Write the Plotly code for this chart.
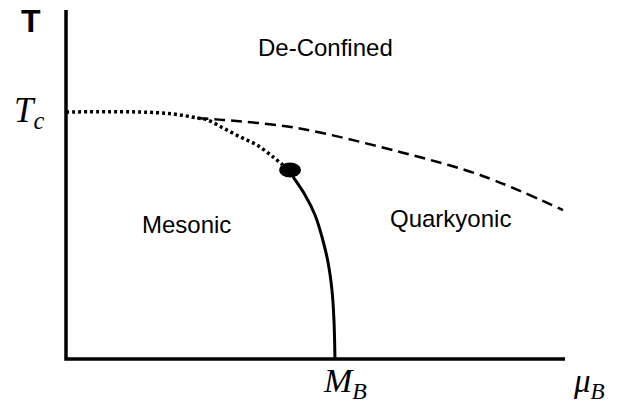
import plotly.graph_objects as go

# Phase-diagram data (mu_B in units of axis length, T in units of Tc)
axis_mu = [0.0, 0.0, 1.0]
axis_T = [1.413, 0.0, 0.0]

crossover_mu = [0.0, 0.148, 0.214, 0.263, 0.283, 0.315, 0.349, 0.383, 0.415, 0.435]
crossover_T = [1.0, 1.0, 0.992, 0.976, 0.968, 0.935, 0.899, 0.866, 0.818, 0.785]

deconf_mu = [0.263, 0.315, 0.463, 0.669, 0.830, 0.996]
deconf_T = [0.976, 0.968, 0.935, 0.838, 0.745, 0.603]

first_order_mu = [0.455, 0.479, 0.499, 0.513, 0.525, 0.533, 0.537, 0.539]
first_order_T = [0.737, 0.664, 0.583, 0.494, 0.393, 0.279, 0.158, 0.0]

critical_mu = 0.449
critical_T = 0.765

W, H = 618, 406
X_RANGE = [-0.13226, 1.10621]
Y_RANGE = [-0.19028, 1.45344]

fig = go.Figure()
fig.add_trace(go.Scatter(x=axis_mu, y=axis_T, mode="lines",
                         line=dict(color="black", width=3.5), hoverinfo="skip"))
fig.add_trace(go.Scatter(x=crossover_mu, y=crossover_T, mode="lines",
                         line=dict(color="black", width=3.5, dash="3px,3px", shape="spline"),
                         hoverinfo="skip"))
fig.add_trace(go.Scatter(x=deconf_mu, y=deconf_T, mode="lines",
                         line=dict(color="black", width=2.5, dash="11px,6px", shape="spline"),
                         hoverinfo="skip"))
fig.add_trace(go.Scatter(x=first_order_mu, y=first_order_T, mode="lines",
                         line=dict(color="black", width=3, shape="spline"),
                         hoverinfo="skip"))

fig.add_shape(type="circle", xref="x", yref="y",
              xsizemode="pixel", ysizemode="pixel",
              xanchor=critical_mu, yanchor=critical_T,
              x0=-11, x1=11, y0=-7.5, y1=7.5,
              fillcolor="black", line=dict(color="black", width=0))

def px(xp, yp):
    return xp / W, 1 - yp / H

sans = "Liberation Sans, Arial, sans-serif"
serif = "Liberation Serif, Times New Roman, serif"

anns = [
    ("<b>T</b>", 31, 21, 32, sans),
    ("De-Confined", 325, 48, 24, sans),
    ("Mesonic", 186, 224, 24, sans),
    ("Quarkyonic", 450, 219, 24, sans),
]
for text, xp, yp, size, fam in anns:
    x, y = px(xp, yp)
    fig.add_annotation(x=x, y=y, xref="paper", yref="paper", text=text,
                       showarrow=False, xanchor="center", yanchor="middle",
                       font=dict(size=size, family=fam, color="black"))

math = [
    ("<i>T</i><sub><i>c</i></sub>", 29, 112, 35),
    ("<i>M</i><sub><i>B</i></sub>", 345, 383, 34),
    ("<i>μ</i><sub><i>B</i></sub>", 589, 383, 33),
]
for text, xp, yp, size in math:
    x, y = px(xp, yp)
    fig.add_annotation(x=x, y=y, xref="paper", yref="paper", text=text,
                       showarrow=False, xanchor="center", yanchor="middle",
                       font=dict(size=size, family=serif, color="black"))

fig.update_layout(
    width=W, height=H, margin=dict(l=0, r=0, t=0, b=0),
    paper_bgcolor="white", plot_bgcolor="white", showlegend=False,
    xaxis=dict(range=X_RANGE, visible=False, fixedrange=True),
    yaxis=dict(range=Y_RANGE, visible=False, fixedrange=True),
)
fig.write_html("out.html")
